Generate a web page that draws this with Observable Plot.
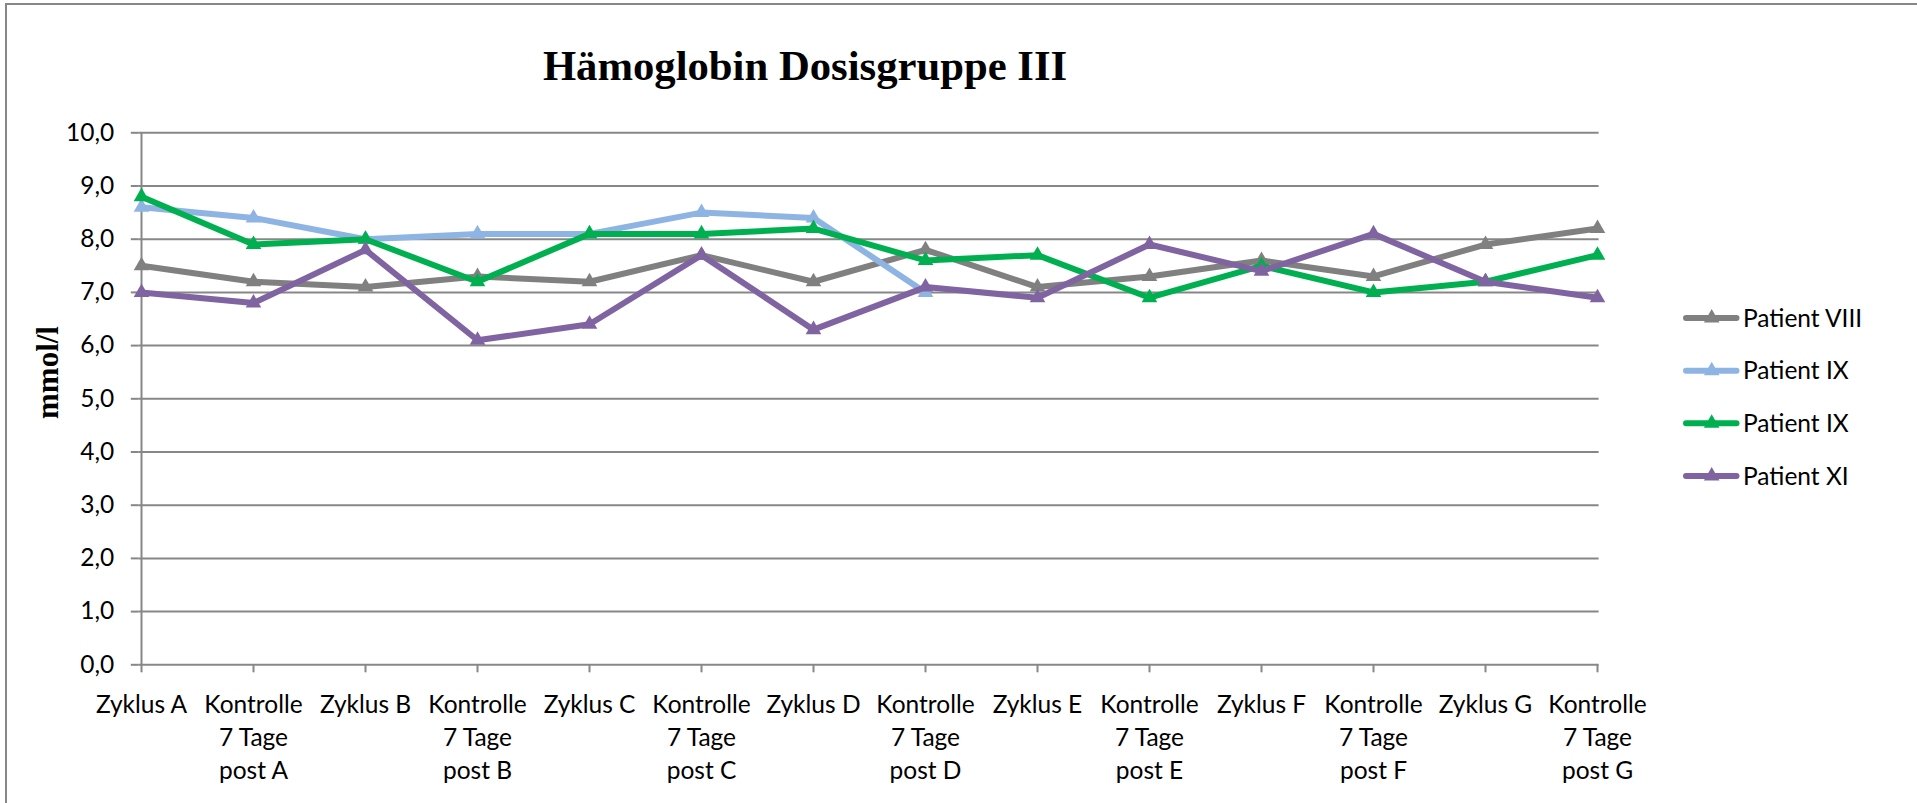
<!DOCTYPE html>
<html>
<head>
<meta charset="utf-8">
<script src="https://cdn.jsdelivr.net/npm/d3@7"></script>
<script src="https://cdn.jsdelivr.net/npm/@observablehq/plot@0.6"></script>
<style>
  html, body { margin: 0; padding: 0; background: #fff; overflow: hidden; }
  #wrap { position: relative; width: 1917px; height: 803px; overflow: hidden; }
  #chart svg { display: block; }
  #frame { position: absolute; left: 5px; top: 3px; width: 1930px; height: 820px;
           border-top: 2px solid #878787; border-left: 2px solid #878787; pointer-events: none; }
  #overlay { position: absolute; left: 0; top: 0; pointer-events: none; }
</style>
</head>
<body>
<div id="wrap">
  <div id="chart"></div>
  <div id="frame"></div>
  <svg id="overlay" width="1917" height="803"></svg>
</div>
<script>
// ---- data ----
const categories = [
  "Zyklus A", "Kontrolle 7 Tage post A", "Zyklus B", "Kontrolle 7 Tage post B",
  "Zyklus C", "Kontrolle 7 Tage post C", "Zyklus D", "Kontrolle 7 Tage post D",
  "Zyklus E", "Kontrolle 7 Tage post E", "Zyklus F", "Kontrolle 7 Tage post F",
  "Zyklus G", "Kontrolle 7 Tage post G"
];
const tickLabels = [
  "Zyklus A", "Kontrolle\n7 Tage\npost A", "Zyklus B", "Kontrolle\n7 Tage\npost B",
  "Zyklus C", "Kontrolle\n7 Tage\npost C", "Zyklus D", "Kontrolle\n7 Tage\npost D",
  "Zyklus E", "Kontrolle\n7 Tage\npost E", "Zyklus F", "Kontrolle\n7 Tage\npost F",
  "Zyklus G", "Kontrolle\n7 Tage\npost G"
];
const yTicks = [0, 1, 2, 3, 4, 5, 6, 7, 8, 9, 10];

const seriesKeys   = ["VIII", "IX_a", "IX_b", "XI"];
const seriesLabels = ["Patient VIII", "Patient IX", "Patient IX", "Patient XI"];
const seriesColors = ["#808080", "#8EB4E3", "#00B050", "#8064A2"];

const patientVIII = [7.5, 7.2, 7.1, 7.3, 7.2, 7.7, 7.2, 7.8, 7.1, 7.3, 7.6, 7.3, 7.9, 8.2];
const patientIXa  = [8.6, 8.4, 8.0, 8.1, 8.1, 8.5, 8.4, 7.0, null, null, null, null, null, null];
const patientIXb  = [8.8, 7.9, 8.0, 7.2, 8.1, 8.1, 8.2, 7.6, 7.7, 6.9, 7.5, 7.0, 7.2, 7.7];
const patientXI   = [7.0, 6.8, 7.8, 6.1, 6.4, 7.7, 6.3, 7.1, 6.9, 7.9, 7.4, 8.1, 7.2, 6.9];

const seriesValues = [patientVIII, patientIXa, patientIXb, patientXI];

// ---- build rows ----
const rows = [];
seriesKeys.forEach((k, s) => {
  seriesValues[s].forEach((v, i) => {
    if (v != null) rows.push({id: k, cat: categories[i], value: v});
  });
});

const gridColor = "#878787";
const lineW = 6;
const markR = 5.8;

const seriesMarks = [];
seriesKeys.forEach(k => {
  const d = rows.filter(r => r.id === k);
  seriesMarks.push(
    Plot.line(d, {x: "cat", y: "value", stroke: "id", strokeWidth: lineW,
                  strokeLinejoin: "round", strokeLinecap: "round"}),
    Plot.dot(d, {x: "cat", y: "value", fill: "id", symbol: "triangle", r: markR})
  );
});

const chart = Plot.plot({
  width: 1917,
  height: 803,
  marginLeft: 138.8,
  marginRight: 318.4,
  marginTop: 132.3,
  marginBottom: 138.7,
  style: {fontFamily: "Lato, sans-serif", fontSize: "24.5px", color: "black", background: "white", overflow: "visible"},
  x: {type: "point", domain: categories, padding: 0, label: null},
  y: {domain: [0, 10], label: null},
  color: {domain: seriesKeys, range: seriesColors},
  marks: [
    Plot.ruleY(yTicks, {stroke: gridColor, strokeWidth: 2}),
    Plot.ruleX([categories[0]], {stroke: gridColor, strokeWidth: 2}),
    Plot.axisY({ticks: yTicks, tickSize: 8, tickPadding: 17, stroke: gridColor, strokeWidth: 2,
                fill: "black", fontSize: 24.5, label: null,
                tickFormat: d => d.toFixed(1).replace(".", ",")}),
    Plot.axisX({tickSize: 8, tickPadding: 17.3, stroke: gridColor, strokeWidth: 2,
                fill: "black", fontSize: 24.5, lineHeight: 1.335, label: null,
                tickFormat: d => tickLabels[categories.indexOf(d)]}),
    ...seriesMarks
  ]
});
document.getElementById("chart").appendChild(chart);

// ---- overlay: title, y label, legend ----
const ov = d3.select("#overlay");
ov.append("text")
  .attr("x", 805).attr("y", 80)
  .attr("text-anchor", "middle")
  .attr("font-family", "Liberation Serif, serif")
  .attr("font-weight", "bold")
  .attr("font-size", 42.7)
  .attr("fill", "black")
  .text("Hämoglobin Dosisgruppe III");

ov.append("text")
  .attr("transform", "translate(58,372.5) rotate(-90)")
  .attr("text-anchor", "middle")
  .attr("font-family", "Liberation Serif, serif")
  .attr("font-weight", "bold")
  .attr("font-size", 31)
  .attr("fill", "black")
  .text("mmol/l");

const legendY = [318, 370.7, 423.3, 476];
const tri = d3.symbol(d3.symbolTriangle, Math.PI * markR * markR)();
seriesKeys.forEach((k, i) => {
  const g = ov.append("g").attr("transform", `translate(0,${legendY[i]})`);
  g.append("line")
    .attr("x1", 1686).attr("x2", 1736.5).attr("y1", 0).attr("y2", 0)
    .attr("stroke", seriesColors[i]).attr("stroke-width", lineW)
    .attr("stroke-linecap", "round");
  g.append("path").attr("d", tri).attr("transform", "translate(1711.7,0)")
    .attr("fill", seriesColors[i]);
  g.append("text")
    .attr("x", 1743).attr("y", 0).attr("dy", "0.35em")
    .attr("font-family", "Lato, sans-serif").attr("font-size", 24.5)
    .attr("fill", "black")
    .text(seriesLabels[i]);
});
</script>
</body>
</html>
